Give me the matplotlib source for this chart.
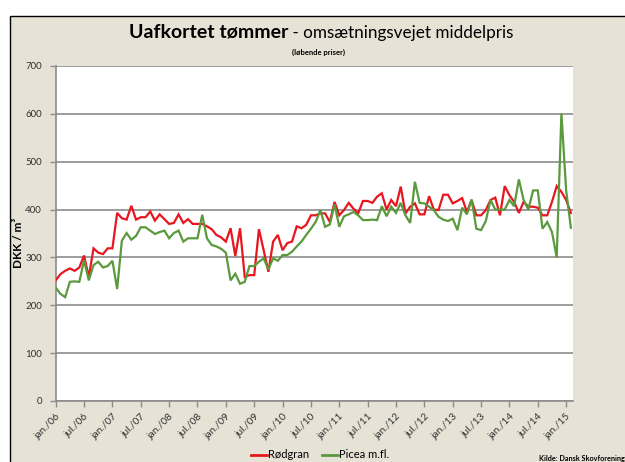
import matplotlib
matplotlib.use("Agg")
import matplotlib.pyplot as plt
from matplotlib.patches import Rectangle
from matplotlib.lines import Line2D

plt.rcParams['font.family'] = ['Lato', 'DejaVu Sans']

# Monthly values, jan/06 .. feb/15
rodgran = [252, 265, 272, 277, 272, 279, 304, 259, 319, 310, 307, 319,
           319, 393, 382, 379, 408, 379, 384, 384, 396, 377, 390, 380,
           370, 372, 390, 372, 380, 370, 370, 370, 365, 359, 347, 342,
           333, 361, 303, 361, 259, 263, 263, 359, 315, 270, 333, 347,
           315, 330, 333, 365, 361, 368, 388, 388, 392, 392, 374, 416,
           388, 399, 414, 402, 392, 418, 418, 414, 427, 434, 400, 420,
           407, 448, 392, 406, 413, 390, 390, 428, 400, 399, 431, 431,
           413, 418, 424, 395, 420, 388, 388, 399, 420, 425, 388, 449,
           430, 416, 393, 416, 406, 406, 404, 388, 388, 416, 449, 437,
           420, 393]
picea = [237, 224, 217, 249, 250, 249, 294, 252, 284, 291, 279, 282,
         293, 234, 335, 351, 337, 345, 363, 363, 356, 349, 353, 356,
         340, 351, 356, 333, 340, 340, 340, 389, 340, 326, 323, 318,
         310, 252, 266, 245, 249, 282, 282, 291, 298, 275, 298, 293,
         305, 305, 312, 323, 333, 347, 360, 374, 399, 364, 369, 411,
         364, 386, 390, 395, 388, 378, 378, 379, 378, 407, 386, 406,
         393, 414, 388, 372, 458, 414, 413, 406, 399, 385, 379, 376,
         381, 357, 404, 390, 421, 360, 357, 376, 420, 400, 400, 400,
         420, 407, 463, 420, 400, 440, 440, 360, 374, 353, 300, 601,
         440, 362]
tick_labels = ["jan./06", "jul./06", "jan./07", "jul./07", "jan./08", "jul./08",
               "jan./09", "jul./09", "jan./10", "jul./10", "jan./11", "jul./11",
               "jan./12", "jul./12", "jan./13", "jul./13", "jan./14", "jul./14",
               "jan./15"]
series_names = ["Rødgran", "Picea m.fl."]

W, H = 625, 462
fig = plt.figure(figsize=(W / 100, H / 100), dpi=100)
fig.patch.set_facecolor("white")

def fx(px):
    return px / W

def fy(py):
    return 1 - py / H

bg = Rectangle((fx(9.5), -0.05), 1.2, fy(15.5) + 0.05, transform=fig.transFigure,
               facecolor="#E6E2D6", edgecolor="black", linewidth=1.0, zorder=-10)
fig.patches.append(bg)

ax = fig.add_axes([fx(55.7), fy(401), fx(573) - fx(55.7), fy(66) - fy(401)])
ax.set_zorder(1)
ax.set_facecolor("white")

red = "#E8161E"
green = "#5A9A3C"
x = list(range(len(rodgran)))
ax.plot(x, rodgran, color=red, lw=1.6, zorder=3, solid_joinstyle="miter")
ax.plot(x, picea, color=green, lw=1.6, zorder=3, solid_joinstyle="miter")

ax.set_xlim(0, 109.45)
ax.set_ylim(0, 700)
ax.set_yticks(range(0, 701, 100))
ax.set_xticks(range(0, 109, 6))
ax.set_xticklabels(tick_labels, rotation=45, ha="right", va="top",
                   rotation_mode="anchor", fontsize=7.3, color="#303030")
ax.tick_params(axis="y", labelsize=7, labelcolor="#303030", length=4,
               color="#8C8C8C", width=1, pad=6)
ax.tick_params(axis="x", length=4, color="#8C8C8C", width=1, pad=4)
ax.yaxis.grid(True, color="#8C8C8C", lw=1.2)
ax.set_axisbelow(True)
for s in ["top", "right"]:
    ax.spines[s].set_visible(False)
for s in ["left", "bottom"]:
    ax.spines[s].set_color("#8C8C8C")
    ax.spines[s].set_linewidth(1.2)

ax.set_ylabel("DKK / m³", fontsize=8.5, fontweight="bold", color="black")
ax.yaxis.label.set_va("center")
ax.yaxis.set_label_coords((19 - 55.7) / (573 - 55.7), (401 - 243) / (401 - 66))

fig.text(fx(288), fy(38), "Uafkortet tømmer", ha="right", va="baseline",
         fontsize=14, fontweight="bold", color="black")
fig.text(fx(288), fy(38), " - omsætningsvejet middelpris", ha="left",
         va="baseline", fontsize=12.3, color="black")
fig.text(fx(319), fy(52), "(løbende priser)", ha="center", va="center",
         fontsize=5.5, fontweight="bold", color="black")

handles = [Line2D([], [], color=red, lw=2), Line2D([], [], color=green, lw=2)]
fig.legend(handles, series_names, loc="center", bbox_to_anchor=(fx(320), fy(455)),
           ncol=2, frameon=False, fontsize=8, handlelength=1.4, handletextpad=0.1,
           columnspacing=1.2)

fig.text(fx(539), fy(458), "Kilde: Dansk Skovforening", ha="left", va="center",
         fontsize=5.2, fontweight="bold", color="black")

fig.savefig("out.png", dpi=100, facecolor=fig.get_facecolor())
